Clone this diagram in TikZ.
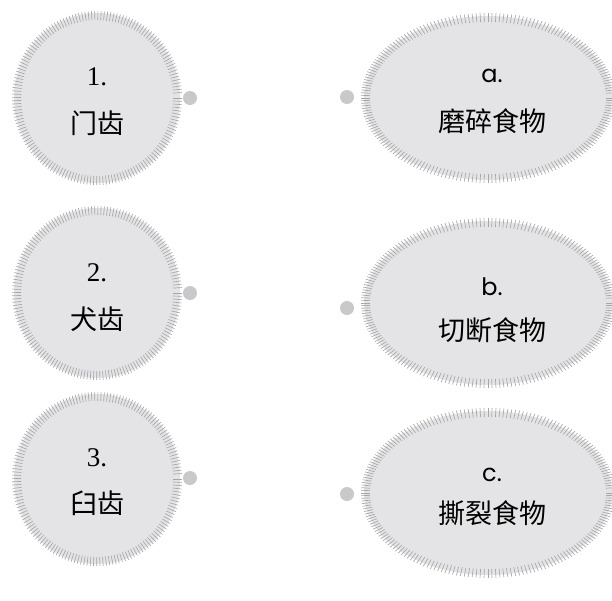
\documentclass[tikz,border=0pt]{standalone}
\usepackage{fontspec}
\setmainfont{Liberation Serif}
\newfontfamily\cjk{Noto Sans CJK SC}
\newfontfamily\geo{Poppins}
\usetikzlibrary{calc,shapes.geometric}
\definecolor{fillgray}{HTML}{E4E4E6}
\definecolor{tickgray}{HTML}{A6A6A8}
\definecolor{dotgray}{HTML}{C9C9CB}
\tikzset{
  tickline/.style={draw=tickgray, line width=0.65pt},
  numlabel/.style={inner sep=0pt, font=\fontsize{27}{32}\selectfont},
  letlabel/.style={inner sep=0pt, font=\geo\fontsize{24}{28}\selectfont},
  cjklabel/.style={inner sep=0pt, font=\cjk\fontsize{27}{32}\selectfont},
  dotnode/.style={circle, fill=dotgray, inner sep=0pt, minimum size=14pt},
  roundbg/.style={ellipse, fill=fillgray, inner sep=0pt, minimum width=166pt, minimum height=170pt},
  ovalbg/.style={ellipse, fill=fillgray, inner sep=0pt, minimum width=248pt, minimum height=164pt},
}
\newcommand\tickround[1]{%
  \foreach \a in {0,2.2,...,357.9}
    \draw[tickline] ($(#1)+({76*cos(\a)},{78*sin(\a)})$) -- ($(#1)+({85*cos(\a)},{87*sin(\a)})$);}
\newcommand\tickoval[1]{%
  \foreach \t in {0,1.8,...,358.2}
    \draw[tickline] ($(#1)+({118*cos(\t)},{76*sin(\t)})$) -- ($(#1)+({127*cos(\t)},{85*sin(\t)})$);}
\begin{document}
\begin{tikzpicture}[x=1pt,y=-1pt]
\useasboundingbox (0,0) rectangle (612,600);
\fill[white] (0,0) rectangle (612,600);
% left circles
\node[roundbg] (c1) at (97,98) {};
\node[roundbg] (c2) at (97,293) {};
\node[roundbg] (c3) at (97,479) {};
\tickround{c1}\tickround{c2}\tickround{c3}
% right ellipses
\node[ovalbg] (e1) at (488,98) {};
\node[ovalbg] (e2) at (488,303) {};
\node[ovalbg] (e3) at (488,493) {};
\tickoval{e1}\tickoval{e2}\tickoval{e3}
% dots
\node[dotnode] (d1) at (190,98) {};
\node[dotnode] (d2) at (190,293) {};
\node[dotnode] (d3) at (190,478) {};
\node[dotnode] (f1) at (347,97) {};
\node[dotnode] (f2) at (347,308) {};
\node[dotnode] (f3) at (347,494) {};
% texts left
\node[numlabel] (n1) at (97,77) {1.};
\node[cjklabel] (z1) at (97,123) {门齿};
\node[numlabel] (n2) at (97,273) {2.};
\node[cjklabel] (z2) at (97,319) {犬齿};
\node[numlabel] (n3) at (97,458) {3.};
\node[cjklabel] (z3) at (97,503) {臼齿};
% texts right
\node[letlabel] (l1) at (492,76) {a.};
\node[cjklabel] (y1) at (492,121) {磨碎食物};
\node[letlabel] (l2) at (492,287) {b.};
\node[cjklabel] (y2) at (492,330) {切断食物};
\node[letlabel] (l3) at (492,475) {c.};
\node[cjklabel] (y3) at (492,513) {撕裂食物};
\end{tikzpicture}
\end{document}
